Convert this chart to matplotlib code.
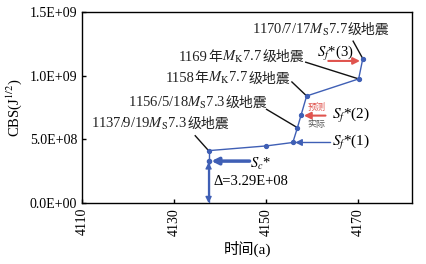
import numpy as np
import matplotlib.pyplot as plt
from matplotlib.transforms import offset_copy

plt.rcParams['font.family'] = ['Liberation Serif', 'Noto Sans CJK SC']
plt.rcParams['mathtext.fontset'] = 'stix'

# data
years = [4137.5, 4150.0, 4155.8, 4156.8, 4157.6, 4158.8, 4170.1, 4171.0]
cbs = [4.11e8, 4.48e8, 4.75e8, 5.91e8, 6.91e8, 8.40e8, 9.74e8, 1.133e9]
sc_year = 4137.5
sc_value = 3.29e8
x_ticks = [4110, 4130, 4150, 4170]
y_ticks = [0, 5e8, 1e9, 1.5e9]
y_ticklabels = ['0.0E+00', '5.0E+08', '1.0E+09', '1.5E+09']

# each label split into latin/math pieces and chinese pieces
quakes = [
    ['1137/9/19$M_{\\rm S}$7.3', '级地震'],
    ['1156/5/18$M_{\\rm S}$7.3', '级地震'],
    ['1158', '年', '$M_{\\rm K}$7.7', '级地震'],
    ['1169', '年', '$M_{\\rm K}$7.7', '级地震'],
    ['1170/7/17$M_{\\rm S}$7.7', '级地震'],
]
quake_idx = [0, 3, 5, 6, 7]

blue = '#3f5fb5'
red = '#e0544e'
CJK = 'Noto Sans CJK SC'

fig = plt.figure(figsize=(4.27, 2.64), dpi=100)
ax = fig.add_axes([0.192, 0.231, 0.773, 0.724])
ax.set_xlim(4110, 4181.7)
ax.set_ylim(0, 1.5e9)
renderer = fig.canvas.get_renderer()


def label(x, y, parts, size=10.5):
    # right-aligned label on a common baseline, built from the right end
    dx = 0.0
    for p in reversed(parts):
        fam = CJK if any(ord(c) > 0x2e80 for c in p) else 'Liberation Serif'
        fs = size - 0.5 if fam == CJK else size
        tr = offset_copy(ax.transData, fig=fig, x=-dx, y=0, units='dots')
        t = ax.text(x, y, p, transform=tr, ha='right', va='baseline',
                    fontsize=fs, family=fam, color='#222222')
        dx += t.get_window_extent(renderer).width


ax.plot(years, cbs, color=blue, lw=1.0, marker='o', ms=2.8, zorder=4)
ax.plot([sc_year, sc_year], [0, cbs[0]], color=blue, lw=1.0, zorder=4)
ax.plot([sc_year], [sc_value], 'o', color=blue, ms=3, zorder=5)
ax.annotate('', xy=(sc_year, sc_value - 0.1e8), xytext=(sc_year, 0),
            arrowprops=dict(arrowstyle='<|-|>', color=blue, lw=1.0,
                            mutation_scale=9, shrinkA=0, shrinkB=0))

# earthquake labels (baseline, right end) with leader lines
label_pos = [(4142.0, 5.92e8), (4150.2, 7.52e8), (4155.2, 9.47e8),
             (4158.2, 1.114e9), (4176.8, 1.327e9)]
line_start = [(4134.6, 5.28e8), (4150.1, 7.35e8), (4155.6, 9.50e8),
              (4158.6, 1.105e9), (4168.9, 1.27e9)]
for i, parts in enumerate(quakes):
    k = quake_idx[i]
    label(label_pos[i][0], label_pos[i][1], parts)
    ax.plot([line_start[i][0], years[k]], [line_start[i][1], cbs[k]],
            color='#111111', lw=1.0, zorder=3)

# Sc* arrow
ax.annotate('', xy=(sc_year + 0.6, sc_value), xytext=(4146.4, sc_value),
            arrowprops=dict(arrowstyle='-|>', color=blue, lw=2.5,
                            mutation_scale=10, shrinkA=0, shrinkB=0))
ax.text(4146.6, 3.05e8, '$S_c$*', fontsize=10.5, va='center', ha='left')
ax.text(4138.5, 1.65e8, 'Δ=3.29E+08', fontsize=10.5, va='center', ha='left')

# Sf*(1)
ax.annotate('', xy=(years[2] + 0.5, cbs[2]), xytext=(4164.0, cbs[2]),
            arrowprops=dict(arrowstyle='-|>', color=blue, lw=1.0,
                            mutation_scale=10, shrinkA=0, shrinkB=0))
ax.text(4164.3, 4.75e8, '$S_f$*(1)', fontsize=11, va='center', ha='left')

# Sf*(2)
ax.annotate('', xy=(years[4] + 0.6, cbs[4] - 0.05e8), xytext=(4162.9, cbs[4] - 0.05e8),
            arrowprops=dict(arrowstyle='-|>', color=red, lw=1.5,
                            mutation_scale=10, shrinkA=0, shrinkB=0))
ax.text(4160.9, 7.5e8, '预测', fontsize=6.5, color=red, va='center', ha='center',
        family=CJK)
ax.text(4160.9, 6.2e8, '实际', fontsize=6.5, color='#555555', va='center', ha='center',
        family=CJK)
ax.text(4164.4, 6.85e8, '$S_f$*(2)', fontsize=11, va='center', ha='left')

# Sf*(3)
ax.annotate('', xy=(years[7] - 0.6, 1.115e9), xytext=(4163.5, 1.115e9),
            arrowprops=dict(arrowstyle='-|>', color=red, lw=1.5,
                            mutation_scale=10, shrinkA=0, shrinkB=0))
ax.text(4161.0, 1.17e9, '$S_f$*(3)', fontsize=10.5, va='center', ha='left')

ax.set_xticks(x_ticks)
ax.set_xticklabels([str(t) for t in x_ticks], rotation=90, fontsize=10)
ax.set_yticks(y_ticks)
ax.set_yticklabels(y_ticklabels, fontsize=10)
ax.tick_params(direction='in', length=3, width=1)
ax.set_xlabel('时间(a)', fontsize=11)
ax.set_ylabel('CBS(J$^{1/2}$)', fontsize=10.5)
for s in ax.spines.values():
    s.set_linewidth(1.0)

fig.savefig('out.png', dpi=100)
